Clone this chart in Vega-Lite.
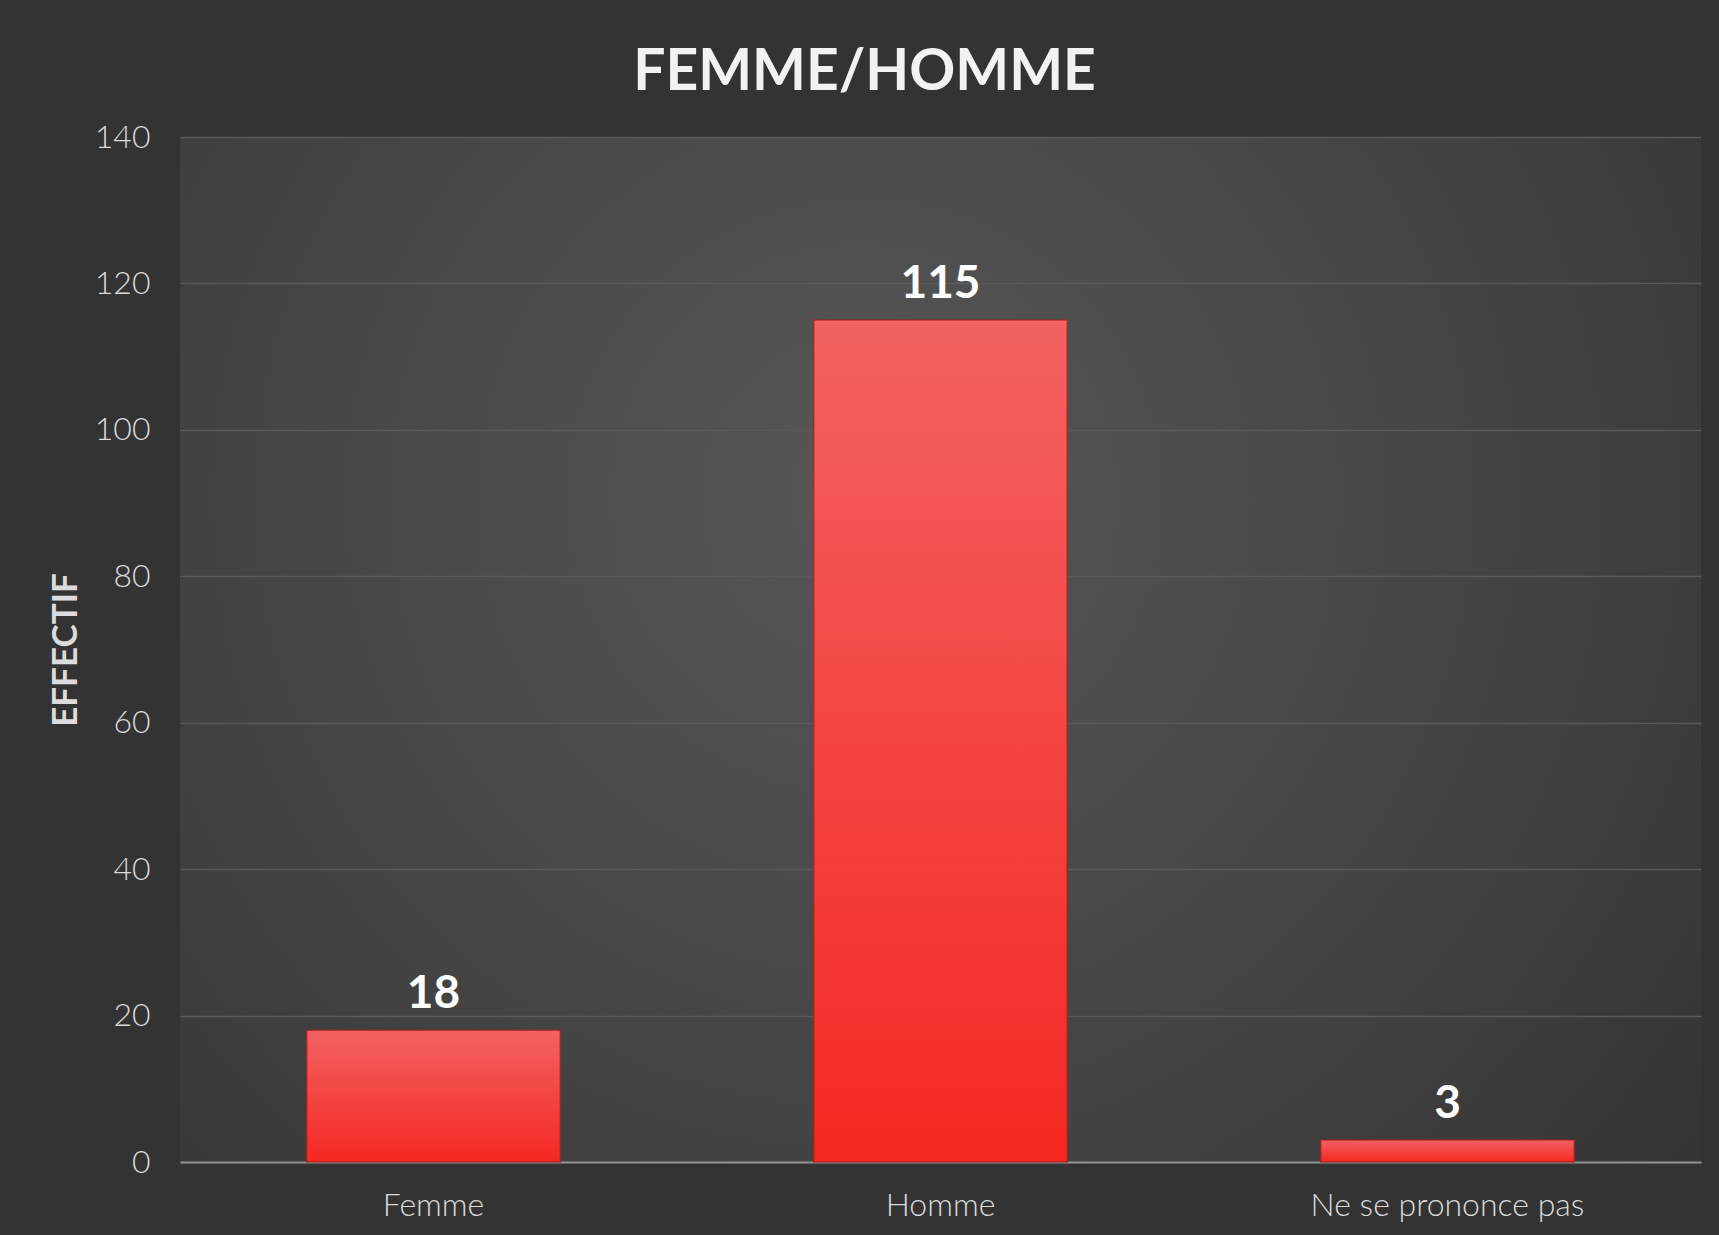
{
  "$schema": "https://vega.github.io/schema/vega-lite/v6.json",
  "width": 1521,
  "height": 1025,
  "autosize": {"type": "none"},
  "padding": {"left": 180, "top": 137, "right": 18, "bottom": 73},
  "background": "#333333",
  "title": {
    "text": "FEMME/HOMME",
    "font": "Lato",
    "fontSize": 57,
    "fontWeight": "bold",
    "color": "#f2f2f2",
    "anchor": "middle",
    "frame": "group",
    "dx": -76,
    "offset": 19
  },
  "config": {
    "view": {
      "stroke": null,
      "fill": {
        "gradient": "radial",
        "x1": 0.45, "y1": 0.4, "r1": 0,
        "x2": 0.45, "y2": 0.4, "r2": 0.85,
        "stops": [
          {"offset": 0, "color": "#575757"},
          {"offset": 0.55, "color": "#414141"},
          {"offset": 1, "color": "#2c2c2c"}
        ]
      }
    },
    "axis": {
      "labelFont": "Lato",
      "titleFont": "Lato",
      "labelColor": "#dadada",
      "titleColor": "#dcdcdc"
    }
  },
  "data": {
    "values": [
      {"categorie": "Femme", "effectif": 18},
      {"categorie": "Homme", "effectif": 115},
      {"categorie": "Ne se prononce pas", "effectif": 3}
    ]
  },
  "encoding": {
    "x": {
      "field": "categorie",
      "type": "nominal",
      "sort": null,
      "scale": {"paddingInner": 0.5, "paddingOuter": 0.25},
      "axis": {
        "title": null,
        "labelAngle": 0,
        "labelFontSize": 32,
        "labelFontWeight": 300,
        "labelLimit": 0,
        "labelPadding": 28,
        "ticks": false,
        "domainColor": "#8f8f8f",
        "domainWidth": 2,
        "grid": false
      }
    },
    "y": {
      "field": "effectif",
      "type": "quantitative",
      "scale": {"domain": [0, 140], "nice": false},
      "axis": {
        "title": "EFFECTIF",
        "titleFontSize": 35,
        "titleFontWeight": "bold",
        "titlePadding": 11,
        "values": [0, 20, 40, 60, 80, 100, 120, 140],
        "labelFontSize": 32,
        "labelFontWeight": 300,
        "labelPadding": 30,
        "ticks": false,
        "domain": false,
        "grid": true,
        "gridColor": "#5a5a5a",
        "gridWidth": 1.3
      }
    }
  },
  "layer": [
    {
      "mark": {
        "type": "bar",
        "color": {
          "gradient": "linear",
          "x1": 0, "y1": 0, "x2": 0, "y2": 1,
          "stops": [
            {"offset": 0, "color": "#f26262"},
            {"offset": 1, "color": "#f52822"}
          ]
        },
        "stroke": "#a81c1c",
        "strokeWidth": 1.5,
        "strokeOpacity": 0.7
      }
    },
    {
      "mark": {
        "type": "text",
        "font": "Lato",
        "fontSize": 46,
        "fontWeight": "bold",
        "color": "#ffffff",
        "baseline": "alphabetic",
        "dy": -22
      },
      "encoding": {
        "text": {"field": "effectif", "type": "quantitative"}
      }
    }
  ]
}
